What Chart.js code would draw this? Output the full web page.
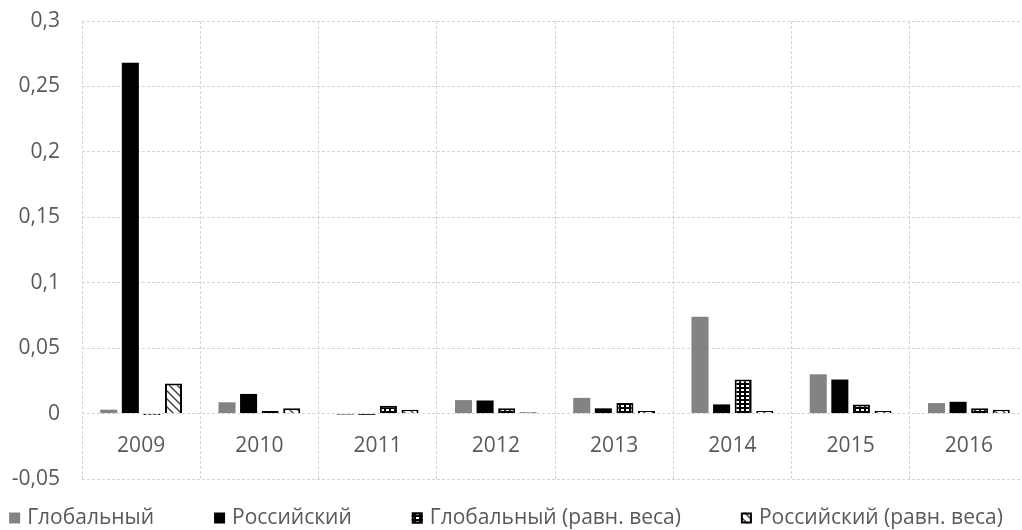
<!DOCTYPE html>
<html>
<head>
<meta charset="utf-8">
<script src="https://cdn.jsdelivr.net/npm/chart.js@4/dist/chart.umd.min.js"></script>
<style>
  html, body { margin: 0; padding: 0; background: #fff; overflow: hidden; }
  #wrap { width: 1028px; height: 530px; }
</style>
</head>
<body>
<div id="wrap"><canvas id="c" width="1028" height="530"></canvas></div>
<script>
// Categories and series
const years = ['2009', '2010', '2011', '2012', '2013', '2014', '2015', '2016'];
const seriesNames = ['Глобальный', 'Российский', 'Глобальный (равн. веса)', 'Российский (равн. веса)'];
const globalIdx   = [0.003, 0.0086, -0.001, 0.0103, 0.012, 0.074, 0.030, 0.008];
const russianIdx  = [0.268, 0.015, -0.001, 0.010, 0.004, 0.007, 0.026, 0.009];
const globalEqW   = [-0.001, 0.002, 0.006, 0.004, 0.008, 0.026, 0.007, 0.004];
const russianEqW  = [0.023, 0.004, 0.003, 0.001, 0.002, 0.002, 0.002, 0.003];
const yTicks = [-0.05, 0, 0.05, 0.1, 0.15, 0.2, 0.25, 0.3];

const FONT = '"Open Sans", "Noto Sans", sans-serif';
const TEXT_COLOR = '#595959';
const GRID_COLOR = '#d4d4d4';

// Fill patterns
function makeTile(w, h, paint) {
  const t = document.createElement('canvas');
  t.width = w; t.height = h;
  paint(t.getContext('2d'));
  return document.getElementById('c').getContext('2d').createPattern(t, 'repeat');
}
const grayFill = makeTile(2, 2, g => {
  g.fillStyle = '#7c7c7c'; g.fillRect(0, 0, 2, 2);
  g.fillStyle = '#8a8a8a'; g.fillRect(0, 0, 1, 1); g.fillRect(1, 1, 1, 1);
});
const blockFill = makeTile(5, 4, g => {
  g.fillStyle = '#000'; g.fillRect(0, 0, 5, 4);
  g.fillStyle = '#fff'; g.fillRect(1, 1, 3, 2);
});
const stripeFill = makeTile(8, 8, g => {
  g.fillStyle = '#fff'; g.fillRect(0, 0, 8, 8);
  g.strokeStyle = '#444'; g.lineWidth = 1.5;
  g.beginPath();
  g.moveTo(-2, -2); g.lineTo(10, 10);
  g.moveTo(-2, 6); g.lineTo(2, 10);
  g.moveTo(6, -2); g.lineTo(10, 2);
  g.stroke();
});

const common = { categoryPercentage: 0.73, barPercentage: 0.79 };
const datasets = [
  { label: seriesNames[0], data: globalIdx,  backgroundColor: grayFill, borderWidth: 0, ...common },
  { label: seriesNames[1], data: russianIdx, backgroundColor: '#000',  borderWidth: 0, ...common },
  { label: seriesNames[2], data: globalEqW,  backgroundColor: blockFill, borderColor: '#000', borderWidth: 2, ...common },
  { label: seriesNames[3], data: russianEqW, backgroundColor: stripeFill, borderColor: '#000', borderWidth: 2, ...common }
];

// Legend row drawn under the plot
const bottomLegend = {
  id: 'bottomLegend',
  afterDraw(chart) {
    const ctx = chart.ctx;
    const box = 11, textGap = 7, itemGap = 60;
    ctx.save();
    ctx.font = '21px ' + FONT;
    ctx.textBaseline = 'middle';
    const widths = chart.data.datasets.map(d => box + textGap + ctx.measureText(d.label).width);
    const total = widths.reduce((a, b) => a + b, 0) + itemGap * (widths.length - 1);
    let x = (chart.width - 16 - total) / 2;
    const y = 518;
    chart.data.datasets.forEach((d, i) => {
      ctx.fillStyle = d.backgroundColor;
      ctx.fillRect(x, y - box / 2, box, box);
      if (d.borderWidth) {
        ctx.strokeStyle = d.borderColor; ctx.lineWidth = 2;
        ctx.strokeRect(x + 1, y - box / 2 + 1, box - 2, box - 2);
      }
      ctx.fillStyle = TEXT_COLOR;
      ctx.textAlign = 'left';
      ctx.fillText(d.label, x + box + textGap, y);
      x += widths[i] + itemGap;
    });
    ctx.restore();
  }
};

const noEdgePadding = s => { s.paddingTop = 0; s.paddingBottom = 0; };

new Chart(document.getElementById('c'), {
  type: 'bar',
  data: { labels: years, datasets },
  plugins: [bottomLegend],
  options: {
    responsive: false,
    animation: false,
    layout: { padding: { top: 21, bottom: 51, left: 0, right: 0 } },
    plugins: { legend: { display: false }, tooltip: { enabled: false } },
    scales: {
      x: {
        position: { y: 0 },
        afterFit: noEdgePadding,
        grid: { color: GRID_COLOR, drawTicks: false, offset: true },
        border: { display: false, dash: [3, 2] },
        ticks: { color: TEXT_COLOR, font: { family: FONT, size: 21 }, padding: 20 }
      },
      y: {
        min: -0.05, max: 0.3,
        afterBuildTicks: s => { s.ticks = yTicks.map(v => ({ value: v })); },
        afterFit: s => { s.width = 82; noEdgePadding(s); },
        grid: { color: GRID_COLOR, drawTicks: false },
        border: { display: false, dash: [3, 2] },
        ticks: {
          color: TEXT_COLOR, font: { family: FONT, size: 21 }, padding: 22,
          callback: v => String(Number(v.toFixed(2))).replace('.', ',')
        }
      }
    }
  }
});
</script>
</body>
</html>
